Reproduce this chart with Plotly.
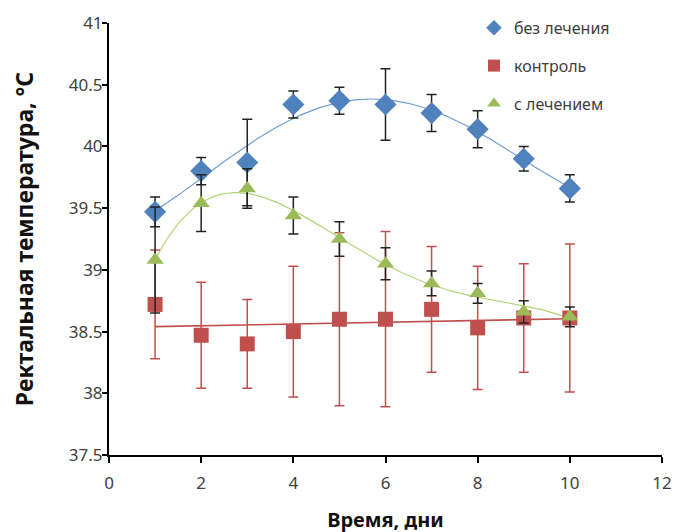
import numpy as np
import plotly.graph_objects as go

days = [1, 2, 3, 4, 5, 6, 7, 8, 9, 10]

no_treat = [39.47, 39.80, 39.87, 40.34, 40.37, 40.34, 40.27, 40.14, 39.90, 39.66]
no_treat_err = [0.12, 0.11, 0.35, 0.11, 0.11, 0.29, 0.15, 0.15, 0.10, 0.11]

control = [38.72, 38.47, 38.40, 38.50, 38.60, 38.60, 38.68, 38.53, 38.61, 38.61]
control_err = [0.44, 0.43, 0.36, 0.53, 0.70, 0.71, 0.51, 0.50, 0.44, 0.60]

treat = [39.08, 39.54, 39.66, 39.44, 39.25, 39.05, 38.89, 38.81, 38.66, 38.62]
treat_err = [0.43, 0.23, 0.16, 0.15, 0.14, 0.13, 0.10, 0.08, 0.09, 0.08]

names = ["без лечения", "контроль", "с лечением"]
x_ticks = [0, 2, 4, 6, 8, 10, 12]
y_ticks = [37.5, 38, 38.5, 39, 39.5, 40, 40.5, 41]

BLUE = "#4F81BD"
RED = "#C0504D"
GREEN = "#9BBB59"
FONT = "Noto Sans"

fig = go.Figure()

xd = np.linspace(min(days), max(days), 200)
fits = [(no_treat, 4, "#6F9BD4", 1.2), (control, 1, RED, 1.6), (treat, 4, "#B3D37A", 1.2)]
for ys, deg, col, w in fits:
    p = np.polyfit(days, ys, deg)
    fig.add_trace(go.Scatter(x=xd, y=np.polyval(p, xd), mode="lines",
                             line=dict(color=col, width=w), showlegend=False,
                             hoverinfo="skip"))

series = [
    (no_treat, no_treat_err, BLUE, "diamond", 17, "#222222"),
    (control, control_err, RED, "square", 15, RED),
    (treat, treat_err, GREEN, "triangle-up", 15, "#222222"),
]
for i, (ys, err, col, sym, sz, ecol) in enumerate(series):
    fig.add_trace(go.Scatter(
        x=days, y=ys, mode="markers", name=names[i], legendgroup=names[i],
        marker=dict(color=col, symbol=sym, size=sz),
        error_y=dict(type="data", array=err, visible=True, color=ecol,
                     thickness=1.5, width=5),
    ))

fig.update_layout(
    width=684, height=532,
    margin=dict(l=101, r=30, t=15, b=85, autoexpand=False),
    paper_bgcolor="white", plot_bgcolor="white",
    font=dict(family=FONT, size=17, color="#404040"),
    legend=dict(x=0.66, y=1.028, xanchor="left", yanchor="top",
                font=dict(family=FONT, size=16, color="#404040"),
                tracegroupgap=14, itemsizing="constant", itemwidth=30,
                bgcolor="rgba(0,0,0,0)"),
    xaxis=dict(range=[0, 12], tickvals=x_ticks, ticktext=[str(v) for v in x_ticks],
               showgrid=False, zeroline=False, showline=True, linecolor="black",
               linewidth=2, ticks="outside", tickcolor="black", tickwidth=2, ticklen=6,
               ticklabelstandoff=6,
               tickfont=dict(family=FONT, size=17, color="#404040"), automargin=False,
               title=dict(text="<b>Время, дни</b>", font=dict(family=FONT, size=20, color="#111111"),
                          standoff=20)),
    yaxis=dict(range=[37.5, 41], tickvals=y_ticks, ticktext=[str(v) for v in y_ticks],
               showgrid=False, zeroline=False, showline=True, linecolor="black",
               linewidth=2, ticks="outside", tickcolor="black", tickwidth=2, ticklen=5,
               ticklabelstandoff=-4,
               tickfont=dict(family=FONT, size=17, color="#404040"), automargin=False,
               title=dict(text="<b>Ректальная температура, °C</b>",
                          font=dict(family=FONT, size=23, color="#111111"), standoff=30)),
)

fig.write_html("out.html")
